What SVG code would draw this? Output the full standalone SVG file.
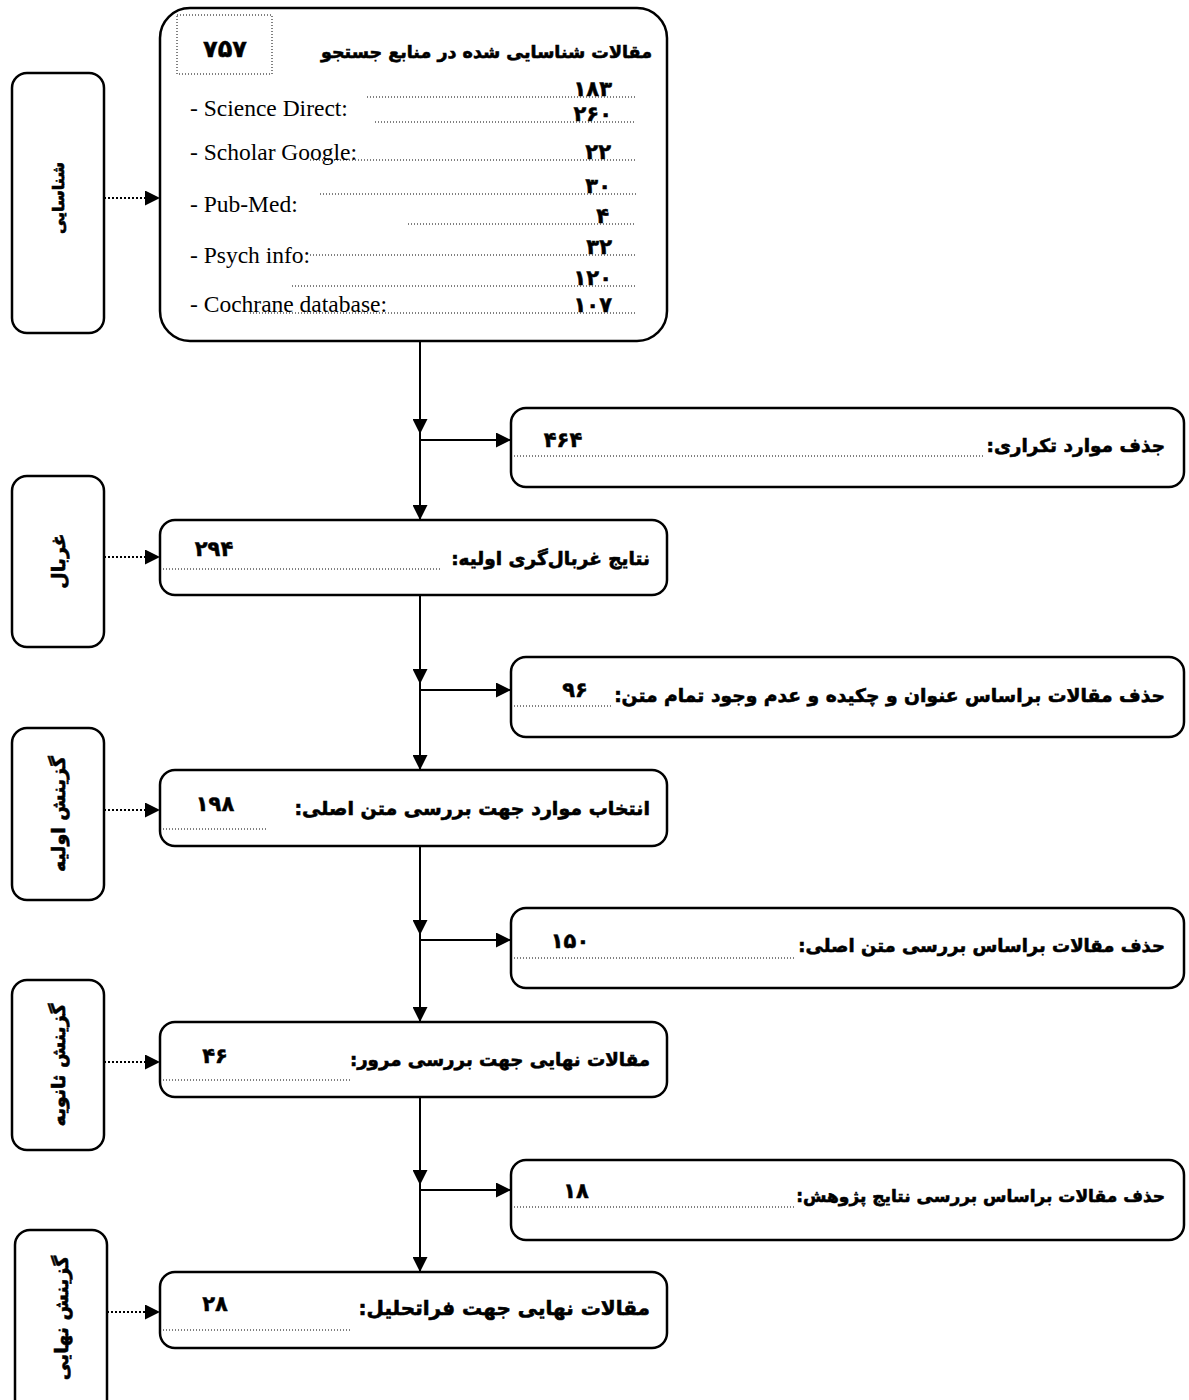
<svg xmlns="http://www.w3.org/2000/svg" width="1189" height="1400" viewBox="0 0 1189 1400">
<style>
.box{fill:#fff;stroke:#000;stroke-width:2.5}
.dot{stroke:#000;stroke-width:1;stroke-dasharray:1 2;fill:none}
.conn{stroke:#000;stroke-width:2;fill:none}
.dconn{stroke:#000;stroke-width:2;stroke-dasharray:2 2;fill:none}
.fa{font-family:"DejaVu Sans","Noto Sans",sans-serif;font-weight:bold;fill:#000;stroke:#000;stroke-width:0.6;direction:rtl}
.num{font-size:21px;font-family:"DejaVu Sans","Noto Sans",sans-serif;font-weight:bold;fill:#000;stroke:#000;stroke-width:0.5}
.en{font-family:"Liberation Serif","Times New Roman",serif;font-size:23.5px;fill:#000}
.side{font-size:19px}
</style>
<defs>
<marker id="ah" markerUnits="userSpaceOnUse" markerWidth="15" markerHeight="15" refX="15" refY="7.5" orient="auto">
<path d="M0,0 L15,7.5 L0,15 z" fill="#000"/>
</marker>
</defs>

<g id="connectors">
<line class="dconn" x1="104" y1="198" x2="160" y2="198" marker-end="url(#ah)"/>
<line class="dconn" x1="104" y1="557" x2="160" y2="557" marker-end="url(#ah)"/>
<line class="dconn" x1="104" y1="810" x2="160" y2="810" marker-end="url(#ah)"/>
<line class="dconn" x1="104" y1="1062" x2="160" y2="1062" marker-end="url(#ah)"/>
<line class="dconn" x1="107" y1="1312" x2="160" y2="1312" marker-end="url(#ah)"/>

<line class="conn" x1="420" y1="341" x2="420" y2="434" marker-end="url(#ah)"/>
<line class="conn" x1="420" y1="434" x2="420" y2="520" marker-end="url(#ah)"/>
<line class="conn" x1="420" y1="440" x2="511" y2="440" marker-end="url(#ah)"/>

<line class="conn" x1="420" y1="595" x2="420" y2="684" marker-end="url(#ah)"/>
<line class="conn" x1="420" y1="684" x2="420" y2="770" marker-end="url(#ah)"/>
<line class="conn" x1="420" y1="690" x2="511" y2="690" marker-end="url(#ah)"/>

<line class="conn" x1="420" y1="846" x2="420" y2="935" marker-end="url(#ah)"/>
<line class="conn" x1="420" y1="935" x2="420" y2="1022" marker-end="url(#ah)"/>
<line class="conn" x1="420" y1="940" x2="511" y2="940" marker-end="url(#ah)"/>

<line class="conn" x1="420" y1="1097" x2="420" y2="1185" marker-end="url(#ah)"/>
<line class="conn" x1="420" y1="1185" x2="420" y2="1272" marker-end="url(#ah)"/>
<line class="conn" x1="420" y1="1190" x2="511" y2="1190" marker-end="url(#ah)"/>
</g>

<g id="side-identification">
<rect class="box" x="12" y="73" width="92" height="260" rx="15"/>
<text class="fa side" transform="translate(58,198) rotate(-90)" text-anchor="middle" dominant-baseline="central" style="font-size:16px">شناسایی</text>
</g>
<g id="side-screening">
<rect class="box" x="12" y="476" width="92" height="171" rx="15"/>
<text class="fa side" transform="translate(58,561) rotate(-90)" text-anchor="middle" dominant-baseline="central">غربال</text>
</g>
<g id="side-primary">
<rect class="box" x="12" y="728" width="92" height="172" rx="15"/>
<text class="fa side" transform="translate(58,814) rotate(-90)" text-anchor="middle" dominant-baseline="central">گزینش اولیه</text>
</g>
<g id="side-secondary">
<rect class="box" x="12" y="980" width="92" height="170" rx="15"/>
<text class="fa side" transform="translate(58,1065) rotate(-90)" text-anchor="middle" dominant-baseline="central">گزینش ثانویه</text>
</g>
<g id="side-final">
<rect class="box" x="15" y="1230" width="92" height="185" rx="15"/>
<text class="fa side" transform="translate(61,1318) rotate(-90)" text-anchor="middle" dominant-baseline="central">گزینش نهایی</text>
</g>

<g id="identified">
<rect class="box" x="160" y="8" width="507" height="333" rx="30"/>
<rect x="177" y="15" width="95" height="59" fill="none" stroke="#000" stroke-width="1" stroke-dasharray="1 2"/>
<text class="num" x="225" y="57" text-anchor="middle" style="font-size:24px">۷۵۷</text>
<text class="fa" x="652" y="58" text-anchor="start" style="font-size:17.5px">مقالات شناسایی شده در منابع جستجو</text>
<text class="en" x="190" y="116">- Science Direct:</text>
<text class="en" x="190" y="160">- Scholar Google:</text>
<text class="en" x="190" y="212">- Pub-Med:</text>
<text class="en" x="190" y="263">- Psych info:</text>
<text class="en" x="190" y="312">- Cochrane database:</text>
<line class="dot" x1="367" y1="97" x2="636" y2="97"/>
<line class="dot" x1="375" y1="122" x2="636" y2="122"/>
<line class="dot" x1="310" y1="160" x2="636" y2="160"/>
<line class="dot" x1="320" y1="194" x2="636" y2="194"/>
<line class="dot" x1="408" y1="224" x2="636" y2="224"/>
<line class="dot" x1="310" y1="255" x2="636" y2="255"/>
<line class="dot" x1="292" y1="286" x2="636" y2="286"/>
<line class="dot" x1="250" y1="313" x2="636" y2="313"/>
<text class="num" x="612" y="96" text-anchor="end">۱۸۳</text>
<text class="num" x="612" y="121" text-anchor="end">۲۶۰</text>
<text class="num" x="611" y="159" text-anchor="end">۲۲</text>
<text class="num" x="611" y="193" text-anchor="end">۳۰</text>
<text class="num" x="609" y="223" text-anchor="end">۴</text>
<text class="num" x="612" y="254" text-anchor="end">۳۲</text>
<text class="num" x="612" y="285" text-anchor="end">۱۲۰</text>
<text class="num" x="612" y="312" text-anchor="end">۱۰۷</text>
</g>

<g id="duplicates">
<rect class="box" x="511" y="408" width="673" height="79" rx="15"/>
<line class="dot" x1="514" y1="456" x2="985" y2="456"/>
<text class="num" x="563" y="447" text-anchor="middle">۴۶۴</text>
<text class="fa" x="1165" y="452" text-anchor="start" style="font-size:18.5px">جذف موارد تکراری:</text>
</g>

<g id="screening">
<rect class="box" x="160" y="520" width="507" height="75" rx="15"/>
<line class="dot" x1="163" y1="569" x2="440" y2="569"/>
<text class="num" x="214" y="556" text-anchor="middle">۲۹۴</text>
<text class="fa" x="650" y="565" text-anchor="start" style="font-size:18.5px">نتایج غربال‌گری اولیه:</text>
</g>

<g id="removed-abstract">
<rect class="box" x="511" y="657" width="673" height="80" rx="15"/>
<line class="dot" x1="514" y1="706" x2="613" y2="706"/>
<text class="num" x="575" y="697" text-anchor="middle">۹۶</text>
<text class="fa" x="1165" y="702" text-anchor="start" style="font-size:18.7px">حذف مقالات براساس عنوان و چکیده و عدم وجود تمام متن:</text>
</g>

<g id="fulltext">
<rect class="box" x="160" y="770" width="507" height="76" rx="15"/>
<line class="dot" x1="163" y1="829" x2="268" y2="829"/>
<text class="num" x="215" y="811" text-anchor="middle">۱۹۸</text>
<text class="fa" x="650" y="815" text-anchor="start" style="font-size:19px">انتخاب موارد جهت بررسی متن اصلی:</text>
</g>

<g id="removed-fulltext">
<rect class="box" x="511" y="908" width="673" height="80" rx="15"/>
<line class="dot" x1="514" y1="958" x2="795" y2="958"/>
<text class="num" x="570" y="948" text-anchor="middle">۱۵۰</text>
<text class="fa" x="1165" y="952" text-anchor="start" style="font-size:18px">حذف مقالات براساس بررسی متن اصلی:</text>
</g>

<g id="review">
<rect class="box" x="160" y="1022" width="507" height="75" rx="15"/>
<line class="dot" x1="163" y1="1080" x2="350" y2="1080"/>
<text class="num" x="215" y="1063" text-anchor="middle">۴۶</text>
<text class="fa" x="650" y="1066" text-anchor="start" style="font-size:18.2px">مقالات نهایی جهت بررسی مرور:</text>
</g>

<g id="removed-results">
<rect class="box" x="511" y="1160" width="673" height="80" rx="15"/>
<line class="dot" x1="514" y1="1207" x2="795" y2="1207"/>
<text class="num" x="576" y="1198" text-anchor="middle">۱۸</text>
<text class="fa" x="1165" y="1202" text-anchor="start" style="font-size:17px">حذف مقالات براساس بررسی نتایج پژوهش:</text>
</g>

<g id="meta">
<rect class="box" x="160" y="1272" width="507" height="76" rx="15"/>
<line class="dot" x1="163" y1="1330" x2="350" y2="1330"/>
<text class="num" x="215" y="1311" text-anchor="middle">۲۸</text>
<text class="fa" x="650" y="1315" text-anchor="start" style="font-size:20px">مقالات نهایی جهت فراتحلیل:</text>
</g>
</svg>
